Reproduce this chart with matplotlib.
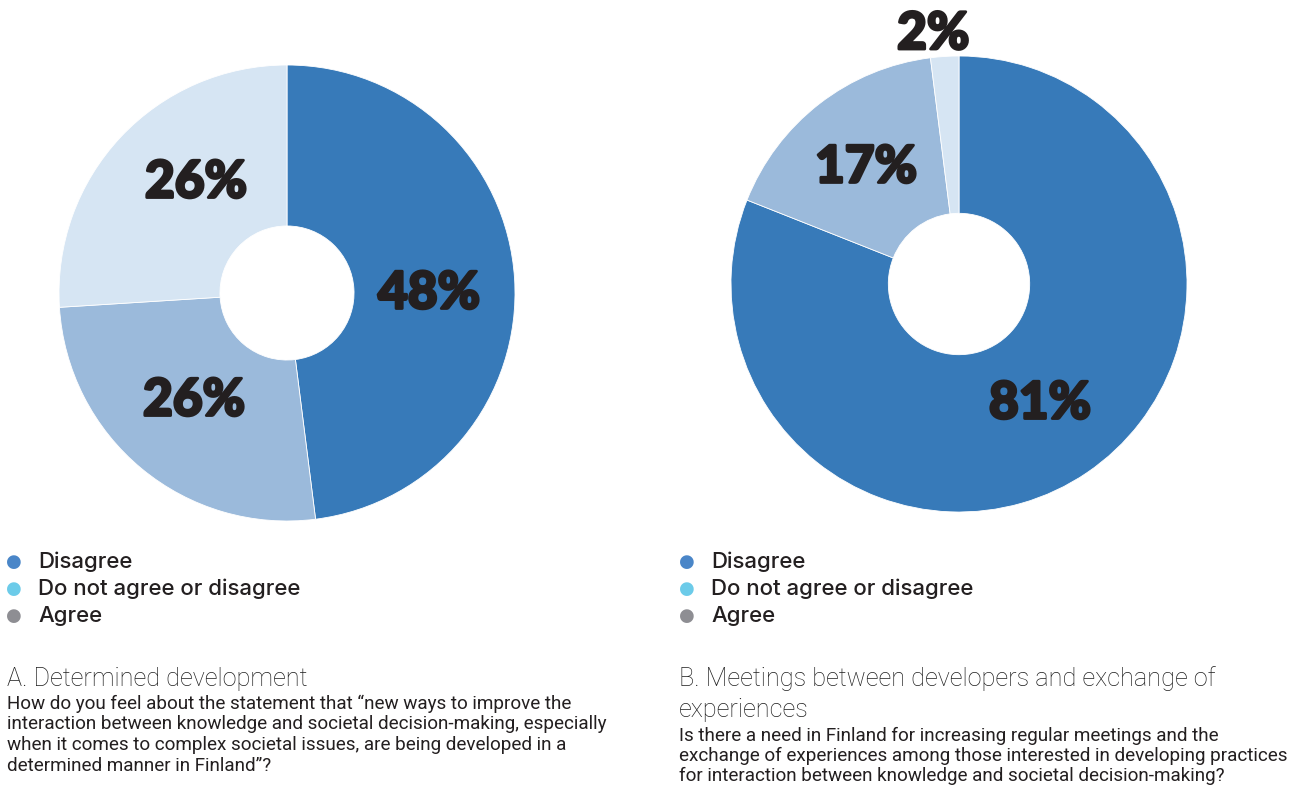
import matplotlib
matplotlib.use("Agg")
import matplotlib.pyplot as plt
import matplotlib.patheffects as pe
import numpy as np

W, H = 1298, 789
categories = ["Disagree", "Do not agree or disagree", "Agree"]
values_a = [48, 26, 26]
values_b = [81, 17, 2]
pie_colors = ["#377ab9", "#9bbadb", "#d6e5f3"]
legend_colors = ["#4a86c8", "#6ccbe9", "#8e8e93"]

title_a = ["A. Determined development"]
body_a = ["How do you feel about the statement that \u201cnew ways to improve the",
          "interaction between knowledge and societal decision-making, especially",
          "when it comes to complex societal issues, are being developed in a",
          "determined manner in Finland\u201d?"]
title_b = ["B. Meetings between developers and exchange of", "experiences"]
body_b = ["Is there a need in Finland for increasing regular meetings and the",
          "exchange of experiences among those interested in developing practices",
          "for interaction between knowledge and societal decision-making?"]

# label placement (radius fraction, angle nudge in degrees) per wedge
label_place_a = [(0.623, -4.0), (0.625, -1.1), (0.626, -7.2)]
label_place_b = [(0.635, -0.2), (0.652, 0.9), (1.10, 2.3)]

fig = plt.figure(figsize=(W / 100, H / 100), dpi=100)
fig.patch.set_facecolor("white")

pct_font = dict(family=["Lato", "DejaVu Sans"], fontweight="black",
                fontsize=37, color="#231f20")


def px_axes(cx, cy, r):
    return fig.add_axes([(cx - r) / W, (H - cy - r) / H, 2 * r / W, 2 * r / H])


def donut(cx, cy, r, vals, hole, places):
    ax = px_axes(cx, cy, r)
    wedges, _ = ax.pie(
        vals, colors=pie_colors, startangle=90, counterclock=False, radius=1,
        wedgeprops=dict(width=1 - hole, edgecolor="white", linewidth=0.6))
    ax.set_xlim(-1, 1)
    ax.set_ylim(-1, 1)
    ax.set_aspect("equal")
    ax.axis("off")
    for w, v, (rr, da) in zip(wedges, vals, places):
        ang = np.deg2rad((w.theta1 + w.theta2) / 2 + da)
        t = ax.text(rr * np.cos(ang), rr * np.sin(ang), f"{v}%",
                    ha="center", va="center", clip_on=False, **pct_font)
        t.set_path_effects([pe.withStroke(linewidth=2.0, foreground="#231f20")])
    return ax


donut(287, 293, 228, values_a, 0.294, label_place_a)
donut(959, 284, 228, values_b, 0.31, label_place_b)

legend_font = dict(family=["Inter", "DejaVu Sans"], fontweight="medium",
                   fontsize=16, color="#231f20")
for x0 in (14, 687):
    for i, (lab, c) in enumerate(zip(categories, legend_colors)):
        y = 562 + 27 * i
        fig.text(x0 / W, 1 - y / H, "\u25cf", color=c, fontsize=13,
                 ha="center", va="center", family="DejaVu Sans")
        fig.text((x0 + 24) / W, 1 - y / H, lab, ha="left", va="center", **legend_font)

title_font = dict(family=["Roboto", "DejaVu Sans"], fontweight="light",
                  fontsize=18.2, color="#1e1e1e")
body_font = dict(family=["Roboto", "DejaVu Sans"], fontweight="normal",
                 fontsize=13.6, color="#231f20")


def lines(x, ys, texts, font):
    for y, s in zip(ys, texts):
        fig.text(x / W, 1 - y / H, s, ha="left", va="center", **font)


lines(7, [679], title_a, title_font)
lines(7, [704, 724, 745, 766], body_a, body_font)
lines(679, [679, 710], title_b, title_font)
lines(679, [736, 756, 776], body_b, body_font)

fig.savefig("out.png", dpi=100, facecolor="white")
